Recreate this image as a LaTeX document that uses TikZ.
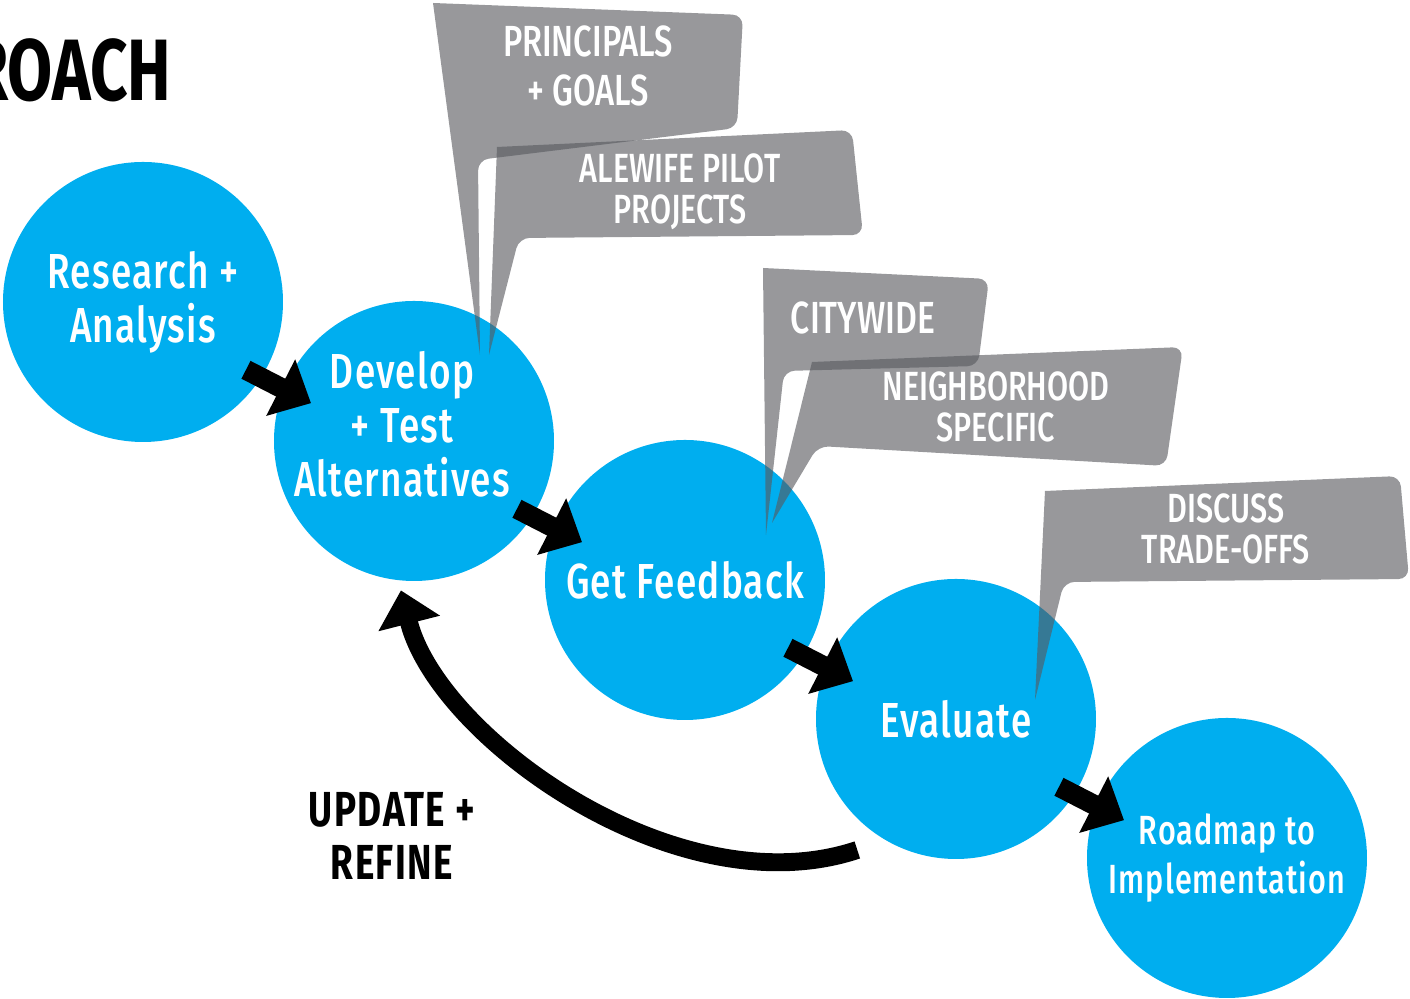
\documentclass[tikz,border=0pt]{standalone}
\usepackage{fontspec}
\setmainfont{Fira Sans}[FakeStretch=0.75]
\newfontfamily\medfont{Fira Sans Medium}[FakeStretch=0.75,LetterSpace=2.5]
\newfontfamily\calloutfont{Fira Sans Medium}[FakeStretch=0.75]
\newfontfamily\loopfont{Fira Sans}[FakeStretch=0.75,LetterSpace=3]
\usepackage{tikz}
\usetikzlibrary{arrows.meta,positioning,calc}
\definecolor{stageblue}{RGB}{0,174,239}
\definecolor{calloutgray}{RGB}{88,89,94}

\begin{document}
\begin{tikzpicture}[node distance=1.39cm and 2.71cm,on grid,>={Triangle[length=9.7pt,width=17.5pt]}]
	\tikzstyle{stage text}=[text=white, align=center, inner sep=0pt, font=\medfont\fontsize{14}{15.4}\selectfont]
	\tikzstyle{stage}=[circle, fill=stageblue, minimum size=2.8cm, stage text]
	\tikzstyle{callout}=[fill=calloutgray, fill opacity=0.62]
	\tikzstyle{callout text}=[text=white, align=center, inner sep=0pt, font=\calloutfont\fontsize{11.6}{11.7}\selectfont]
	\tikzstyle{step arrow}=[->, line width=5.7pt]
	\tikzstyle{loop arrow}=[->, line width=5.1pt]

	\useasboundingbox (0,0) rectangle (14.1,9.99);
	\clip (0,0) rectangle (14.1,9.99);

	\node [anchor=east, inner sep=0pt, font=\bfseries\fontsize{24.8}{26}\selectfont] (title) at (1.72,9.29) {ROACH};

	% the five stages
	\node [stage] (res) at (1.43,6.97) {Research +\\Analysis};
	\node [stage] (dev) [below right=of res] {};
	\node [stage] (get) [below right=of dev] {Get Feedback};
	\node [stage] (eva) [below right=of get] {Evaluate};
	\node [stage, font=\medfont\fontsize{11.6}{13.7}\selectfont] (road) [below right=of eva] {Roadmap to\\Implementation};
	\node [stage text] (devtext) at ($(dev)+(-0.12,0.17)$) {Develop\\+ Test\\Alternatives};

	\draw [step arrow] ($(res)!0.38!(dev)+(0,-0.15)$) -- ($(res)!0.62!(dev)+(0,-0.15)$);
	\draw [step arrow] ($(dev)!0.38!(get)+(0,-0.15)$) -- ($(dev)!0.62!(get)+(0,-0.15)$);
	\draw [step arrow] ($(get)!0.38!(eva)+(0,-0.15)$) -- ($(get)!0.62!(eva)+(0,-0.15)$);
	\draw [step arrow] ($(eva)!0.38!(road)+(0,-0.15)$) -- ($(eva)!0.62!(road)+(0,-0.15)$);

	% back loop
	\coordinate (loopstart) at ($(eva)+(233:1.64)$);
	\coordinate (looptip) at ($(dev)+(265:1.5)$);
	\draw [loop arrow] (loopstart) .. controls +(-1.80,-0.60) and +(0.37,-1.47) .. (looptip);
	\node [align=center, inner sep=0pt, font=\loopfont\bfseries\fontsize{14}{15.1}\selectfont] (update) at (3.92,1.635) {UPDATE +\\REFINE};

	% callouts
	\fill [callout] (4.80,6.44) -- (4.33,9.96) [rounded corners=3pt] -- (7.43,9.84) -- (7.37,8.71) -- (4.78,8.39) -- (4.80,6.44);
	\fill [callout] (4.89,6.44) -- (4.97,8.52) [rounded corners=3pt] -- (8.52,8.69) -- (8.63,7.64) -- (5.19,7.61) -- (4.89,6.44);
	\fill [callout] (7.66,4.64) -- (7.63,7.31) [rounded corners=3pt] -- (9.89,7.20) -- (9.78,6.33) -- (7.84,6.28) -- (7.66,4.64);
	\fill [callout] (7.72,4.76) -- (8.12,6.37) [rounded corners=3pt] -- (11.83,6.52) -- (11.66,5.33) -- (8.18,5.53) -- (7.72,4.76);
	\fill [callout] (10.35,2.99) -- (10.45,5.08) [rounded corners=3pt] -- (14.00,5.23) -- (14.09,4.20) -- (10.64,4.17) -- (10.35,2.99);

	\node [callout text, font=\calloutfont\fontsize{12.4}{14.2}\selectfont] (principals) at (5.88,9.33) {PRINCIPALS\\+ GOALS};
	\node [callout text] (alewife) at (6.80,8.07) {ALEWIFE PILOT\\PROJECTS};
	\node [callout text, font=\calloutfont\fontsize{12.8}{14}\selectfont] (citywide) at (8.63,6.815) {CITYWIDE};
	\node [callout text] (neighborhood) at (9.96,5.92) {NEIGHBORHOOD\\SPECIFIC};
	\node [callout text] (tradeoffs) at (12.26,4.70) {DISCUSS\\TRADE-OFFS};
\end{tikzpicture}
\end{document}
